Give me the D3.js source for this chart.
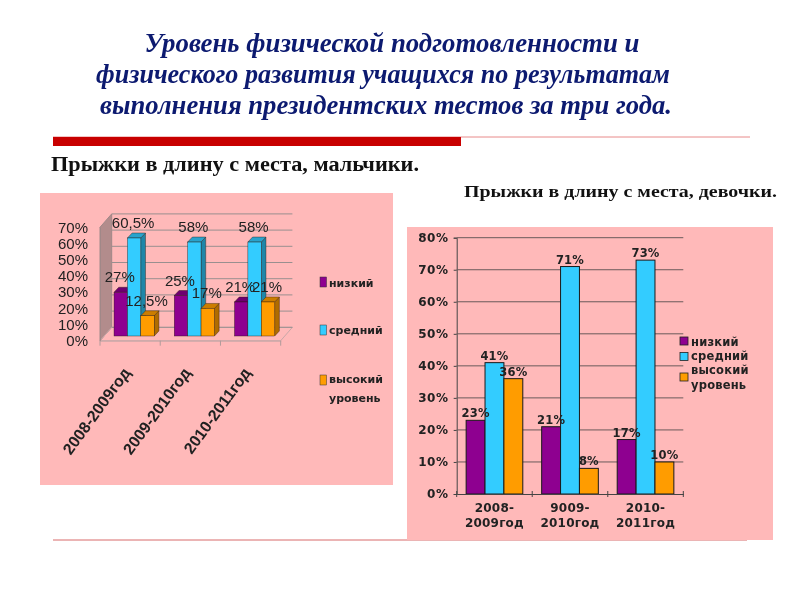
<!DOCTYPE html>
<html><head><meta charset="utf-8">
<script src="https://cdn.jsdelivr.net/npm/d3@7"></script>
<style>html,body{margin:0;padding:0;background:#fff}svg{display:block;filter:blur(0.55px)}</style>
</head><body><svg id="c" width="800" height="600"></svg>
<script>
const titleLines = ["Уровень физической подготовленности и","физического развития учащихся по результатам","выполнения президентских тестов за три года."];
const subtitleBoys = "Прыжки в длину с места, мальчики.";
const subtitleGirls = "Прыжки в длину с места, девочки.";
const seriesNames = ["низкий","средний","высокий уровень"];
const seriesColors = ["#8e0090","#33ccff","#ff9c00"];
const sideColors = ["#5c005e","#1f86a8","#b06c00"];
const topColors = ["#6e0070","#29a3cc","#cc7d00"];
const boysYears = ["2008-2009год","2009-2010год","2010-2011год"];
const boysLow = [27,25,21];
const boysMid = [60.5,58,58];
const boysHigh = [12.5,17,21];
const boysLabelsLow = ["27%","25%","21%"];
const boysLabelsMid = ["60,5%","58%","58%"];
const boysLabelsHigh = ["12,5%","17%","21%"];
const girlsYears = ["2008-2009год","9009-2010год","2010-2011год"];
const girlsLow = [23,21,17];
const girlsMid = [41,71,73];
const girlsHigh = [36,8,10];

const svg = d3.select("#c");
const title = svg.append("g").attr("font-family","Liberation Serif").attr("font-weight","bold").attr("font-style","italic").attr("font-size",27).attr("fill","#0c1a70").attr("text-anchor","middle");
[[392,52,495],[383,83,574],[386,114,572]].forEach((p,i)=>title.append("text").attr("x",p[0]).attr("y",p[1]).attr("textLength",p[2]).attr("lengthAdjust","spacingAndGlyphs").text(titleLines[i]));
svg.append("line").attr("x1",53).attr("x2",750).attr("y1",137).attr("y2",137).attr("stroke","#e88a8a").attr("stroke-width",1);
svg.append("rect").attr("x",53).attr("y",137).attr("width",408).attr("height",9).attr("fill","#c80000");
svg.append("text").attr("x",51).attr("y",171).attr("font-family","Liberation Serif").attr("font-weight","bold").attr("font-size",20).attr("textLength",368).attr("lengthAdjust","spacingAndGlyphs").attr("fill","#111").text(subtitleBoys);
svg.append("text").attr("x",464).attr("y",197).attr("font-family","Liberation Serif").attr("font-weight","bold").attr("font-size",17.5).attr("textLength",313).attr("lengthAdjust","spacingAndGlyphs").attr("fill","#111").text(subtitleGirls);
svg.append("line").attr("x1",53).attr("x2",747).attr("y1",540).attr("y2",540).attr("stroke","#d86a6a").attr("stroke-width",1);

// Boys panel (pseudo-3D)
svg.append("rect").attr("x",40).attr("y",193).attr("width",353).attr("height",292).attr("fill","#ffb9b9");
const bx = d3.scaleBand().domain(boysYears).range([100,280.7]).paddingInner(0.333).paddingOuter(0.1665);
const by = d3.scaleLinear().domain([0,70]).range([340.7,227.3]);
const bandAll = d3.scaleBand().domain(boysYears).range([100,280.7]);
const wallDx = 11.7, wallDy = -13.4, barDx = 4.7, barDy = -5, shiftX = 4, shiftY = -4.7;
const left = svg.append("g");
left.append("path").attr("d",`M100,${by(0)}L${100+wallDx},${by(0)+wallDy}L${100+wallDx},${by(70)+wallDy}L100,${by(70)}Z`).attr("fill","#b28c8c").attr("stroke","#a08888");
left.append("path").attr("d",`M100,${by(0)}L${100+wallDx},${by(0)+wallDy}L${280.7+wallDx},${by(0)+wallDy}L280.7,${by(0)}Z`).attr("fill","none").attr("stroke","#c8a8a8");
d3.range(0,80,10).forEach(v=>{
  left.append("line").attr("x1",100+wallDx).attr("x2",280.7+wallDx).attr("y1",by(v)+wallDy).attr("y2",by(v)+wallDy).attr("stroke","#998f8f").attr("stroke-width",1);
});
const bAxisY = d3.axisLeft(by).tickValues(d3.range(0,80,10)).tickFormat(d=>d+"%").tickSize(0).tickPadding(12);
const gy = left.append("g").attr("transform","translate(100,0)").call(bAxisY);
gy.select(".domain").attr("stroke","#a08888");
gy.selectAll("text").attr("font-family","Liberation Sans").attr("font-size",15).attr("fill","#222");
const bAxisX = d3.axisBottom(bandAll).tickSize(0).tickPadding(0);
const gx = left.append("g").attr("transform",`translate(0,${by(0)})`).call(bAxisX);
gx.select(".domain").attr("stroke","#c8a8a8");
gx.selectAll(".tick line").remove();
gx.selectAll(".tick text").attr("font-family","Liberation Sans").attr("font-size",16).attr("font-weight","bold").attr("fill","#222").attr("text-anchor","end").attr("dy",0)
  .attr("transform","translate(1,32) rotate(-54)");
d3.range(0,4).forEach(i=>left.append("line").attr("x1",100+i*bandAll.bandwidth()).attr("x2",100+i*bandAll.bandwidth()).attr("y1",by(0)).attr("y2",by(0)+5).attr("stroke","#b09a9a"));
const boysSeries = [boysLow,boysMid,boysHigh];
const boysLabels = [boysLabelsLow,boysLabelsMid,boysLabelsHigh];
const bw = bx.bandwidth()/3;
boysYears.forEach((yr,gi)=>{
  boysSeries.forEach((s,si)=>{
    const x0 = bx(yr)+si*bw+shiftX, x1 = x0+bw, yt = by(s[gi])+shiftY, yb = by(0)+shiftY;
    const g = left.append("g").attr("stroke","#2a1a10").attr("stroke-width",0.4);
    g.append("path").attr("d",`M${x1},${yb}L${x1+barDx},${yb+barDy}L${x1+barDx},${yt+barDy}L${x1},${yt}Z`).attr("fill",sideColors[si]);
    g.append("path").attr("d",`M${x0},${yt}L${x0+barDx},${yt+barDy}L${x1+barDx},${yt+barDy}L${x1},${yt}Z`).attr("fill",topColors[si]);
    g.append("rect").attr("x",x0).attr("y",yt).attr("width",bw).attr("height",yb-yt).attr("fill",seriesColors[si]);
  });
});
boysYears.forEach((yr,gi)=>{
  boysSeries.forEach((s,si)=>{
    const x0 = bx(yr)+si*bw+shiftX;
    left.append("text").attr("x",x0+bw/2-1).attr("y",by(s[gi])+shiftY-10).attr("text-anchor","middle").attr("font-family","Liberation Sans").attr("font-size",15).attr("fill","#222").text(boysLabels[si][gi]);
  });
});
const lg1 = left.append("g").attr("font-family","DejaVu Sans").attr("font-weight","bold").attr("font-size",11).attr("fill","#222");
[282,330,380].forEach((p,i)=>{
  lg1.append("rect").attr("x",320).attr("y",p-5).attr("width",6.5).attr("height",10).attr("fill",seriesColors[i]).attr("stroke","#333").attr("stroke-width",0.5);
});
lg1.append("text").attr("x",329).attr("y",287).text(seriesNames[0]);
lg1.append("text").attr("x",329).attr("y",334).text(seriesNames[1]);
lg1.append("text").attr("x",329).attr("y",383).text(seriesNames[2].split(" ")[0]);
lg1.append("text").attr("x",329).attr("y",402).text(seriesNames[2].split(" ")[1]);

// Girls panel
svg.append("rect").attr("x",407).attr("y",227).attr("width",366).attr("height",313).attr("fill","#ffb9b9");
const gxS = d3.scaleBand().domain(girlsYears).range([456.7,683.3]).paddingInner(0.25).paddingOuter(0.125);
const gxT = d3.scaleBand().domain(girlsYears).range([456.7,683.3]);
const gyS = d3.scaleLinear().domain([0,80]).range([494,237.7]);
const right = svg.append("g");
const rTicks = d3.range(0,90,10);
const rAxisY = d3.axisLeft(gyS).tickValues(rTicks).tickFormat(d=>d+"%").tickSize(3).tickPadding(5);
const rgy = right.append("g").attr("transform","translate(456.7,0)").call(rAxisY);
rgy.selectAll("text").attr("font-family","DejaVu Sans").attr("font-weight","bold").attr("font-size",12).attr("letter-spacing",0.6).attr("fill","#222");
rgy.selectAll("line,path").attr("stroke","#444");
rTicks.slice(1).forEach(v=>right.append("line").attr("x1",456.7).attr("x2",683.3).attr("y1",gyS(v)).attr("y2",gyS(v)).attr("stroke","#6a5a5a").attr("stroke-width",1));
const girlsSeries = [girlsLow,girlsMid,girlsHigh];
const rbw = gxS.bandwidth()/3;
girlsYears.forEach((yr,gi)=>girlsSeries.forEach((s,si)=>{
  right.append("rect").attr("x",gxS(yr)+si*rbw).attr("y",gyS(s[gi])).attr("width",rbw).attr("height",gyS(0)-gyS(s[gi])).attr("fill",seriesColors[si]).attr("stroke","#1a1a1a").attr("stroke-width",1);
}));
const rAxisX = d3.axisBottom(gxT).tickSize(0).tickFormat("");
const rgx = right.append("g").attr("transform",`translate(0,${gyS(0)})`).call(rAxisX);
rgx.select(".domain").attr("stroke","#444");
d3.range(0,4).forEach(i=>right.append("line").attr("x1",456.7+i*gxT.bandwidth()).attr("x2",456.7+i*gxT.bandwidth()).attr("y1",gyS(0)-3).attr("y2",gyS(0)+3).attr("stroke","#444"));
const rf = {"font-family":"DejaVu Sans","font-weight":"bold","font-size":12,"letter-spacing":0.2,"fill":"#222"};
const applyF = s=>{Object.entries(rf).forEach(([k,v])=>s.attr(k,v));return s;};
girlsYears.forEach((yr,gi)=>{
  const cx = gxT(yr)+gxT.bandwidth()/2, parts = yr.split("-");
  applyF(right.append("text")).attr("x",cx).attr("y",512).attr("text-anchor","middle").text(parts[0]+"-");
  applyF(right.append("text")).attr("x",cx).attr("y",527).attr("text-anchor","middle").text(parts[1]);
  girlsSeries.forEach((s,si)=>{
    applyF(right.append("text")).attr("x",gxS(yr)+(si+0.5)*rbw).attr("y",gyS(s[gi])-3).attr("text-anchor","middle").attr("font-size",11.5).text(s[gi]+"%");
  });
});
const lg2 = right.append("g");
[341,356.5,377].forEach((p,i)=>{
  lg2.append("rect").attr("x",680).attr("y",p-4).attr("width",8).attr("height",8).attr("fill",seriesColors[i]).attr("stroke","#222").attr("stroke-width",0.8);
});
[[346,seriesNames[0]],[360,seriesNames[1]],[374,seriesNames[2].split(" ")[0]],[389,seriesNames[2].split(" ")[1]]].forEach(p=>{
  applyF(lg2.append("text")).attr("x",691).attr("y",p[0]).attr("font-size",11.5).text(p[1]);
});
</script></body></html>
